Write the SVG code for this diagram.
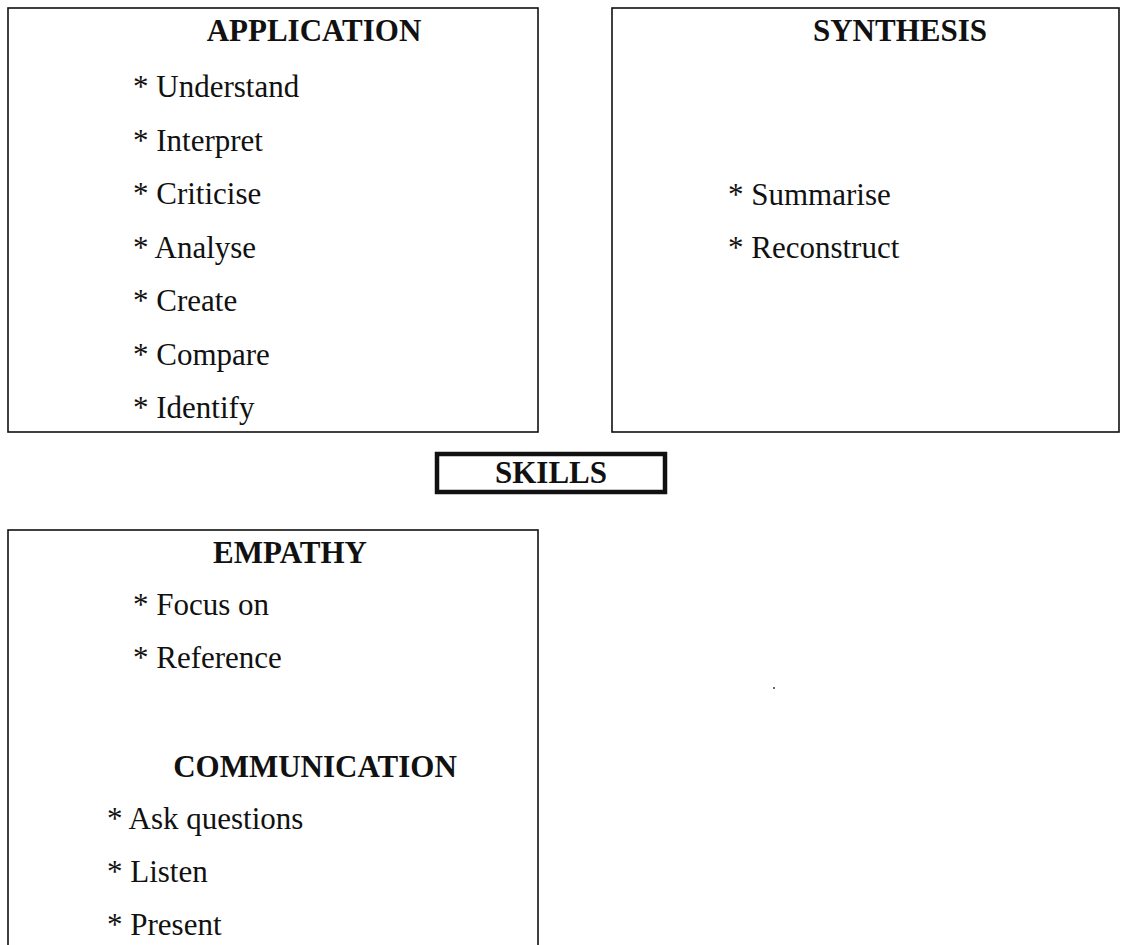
<svg xmlns="http://www.w3.org/2000/svg" width="1124" height="945" viewBox="0 0 1124 945">
<style>
.box{fill:#fff;stroke:#111;stroke-width:1.6}
.thick{fill:#fff;stroke:#111;stroke-width:4.5}
.h{font-family:"Liberation Serif",serif;font-weight:bold;font-size:31px;fill:#111;text-anchor:middle}
.t{font-family:"Liberation Serif",serif;font-size:31px;fill:#111}
</style>
<rect width="1124" height="945" fill="#fff"/>
<g id="application">
<rect class="box" x="8" y="8" width="530" height="424"/>
<text class="h" x="314" y="41">APPLICATION</text>
<text class="t" x="133" y="97">* Understand</text>
<text class="t" x="133" y="151">* Interpret</text>
<text class="t" x="133" y="204">* Criticise</text>
<text class="t" x="133" y="258">* Analyse</text>
<text class="t" x="133" y="311">* Create</text>
<text class="t" x="133" y="365">* Compare</text>
<text class="t" x="133" y="418">* Identify</text>
</g>
<g id="synthesis">
<rect class="box" x="612" y="8" width="507" height="424"/>
<text class="h" x="900" y="41">SYNTHESIS</text>
<text class="t" x="728" y="205">* Summarise</text>
<text class="t" x="728" y="258">* Reconstruct</text>
</g>
<g id="skills">
<rect class="thick" x="437" y="454" width="228" height="38"/>
<text class="h" x="551" y="483">SKILLS</text>
</g>
<g id="empathy">
<rect class="box" x="8" y="530" width="530" height="430"/>
<text class="h" x="290" y="563">EMPATHY</text>
<text class="t" x="133" y="615">* Focus on</text>
<text class="t" x="133" y="668">* Reference</text>
<text class="h" x="315" y="777">COMMUNICATION</text>
<text class="t" x="107" y="829">* Ask questions</text>
<text class="t" x="107" y="882">* Listen</text>
<text class="t" x="107" y="935">* Present</text>
</g>
<g id="connectors"></g>
<circle cx="774" cy="688" r="1" fill="#333"/>
</svg>
